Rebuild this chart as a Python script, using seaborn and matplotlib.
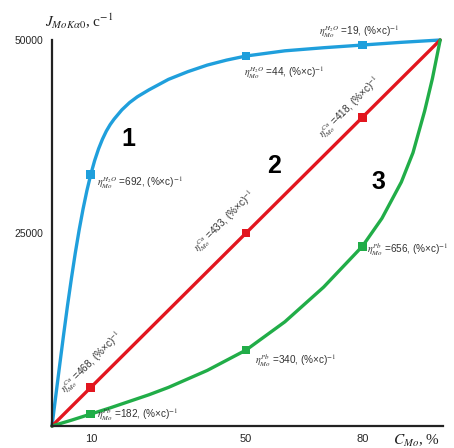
import matplotlib
matplotlib.use("Agg")
import matplotlib.pyplot as plt
import seaborn as sns
import pandas as pd

# ---- data ----
blue_x = [0, 1, 2, 3, 4, 5, 6, 7, 8, 9, 10, 11, 12, 13, 14, 15, 16, 18, 20, 22, 25,
          30, 35, 40, 45, 50, 60, 70, 80, 90, 100]
blue_y = [0, 4000, 7950, 11850, 15600, 19100, 22400, 25400, 28100, 30500, 32600, 34400,
          35900, 37150, 38200, 39050, 39750, 40950, 41900, 42650, 43550,
          44900, 45900, 46750, 47400, 47930, 48600, 49000, 49350, 49700, 50000]

red_x = [0, 10, 50, 80, 100]
red_y = [0, 5000, 25000, 40000, 50000]

green_x = [0, 5, 10, 15, 20, 25, 30, 40, 50, 60, 70, 80, 85, 90, 93, 96, 98, 100]
green_y = [0, 750, 1550, 2350, 3200, 4050, 5000, 7200, 9840, 13500, 18000, 23300,
           26900, 31600, 35400, 40800, 45000, 50000]

marker_x = [10, 50, 80]
blue_my = [32600, 47930, 49350]
red_my = [5000, 25000, 40000]
green_my = [1550, 9840, 23300]

blue_labels = ["692", "44", "19"]
red_labels = ["468", "433", "418"]
green_labels = ["182", "340", "656"]

x_ticks = [10, 50, 80]
y_ticks = [25000, 50000]

BLUE = "#1f9fdc"
RED = "#e2161f"
GREEN = "#21ad48"

sns.set_style("white")
plt.rcParams["font.family"] = ["Liberation Sans", "DejaVu Sans"]
plt.rcParams["mathtext.fontset"] = "stix"

fig = plt.figure(figsize=(4.54, 4.48), dpi=100)
ax = fig.add_axes([0.1145, 0.0491, 0.861, 0.8616])

curves = pd.concat([
    pd.DataFrame({"C": blue_x, "J": blue_y, "s": "1"}),
    pd.DataFrame({"C": red_x, "J": red_y, "s": "2"}),
    pd.DataFrame({"C": green_x, "J": green_y, "s": "3"}),
])
pal = {"1": BLUE, "2": RED, "3": GREEN}
sns.lineplot(data=curves, x="C", y="J", hue="s", palette=pal, linewidth=2.4,
             sort=False, estimator=None, legend=False, ax=ax)
for l in ax.lines:
    l.set_clip_on(False)
    l.set_solid_capstyle("round")
    l.set_solid_joinstyle("round")

marks = pd.concat([
    pd.DataFrame({"C": marker_x, "J": blue_my, "s": "1"}),
    pd.DataFrame({"C": marker_x, "J": red_my, "s": "2"}),
    pd.DataFrame({"C": marker_x, "J": green_my, "s": "3"}),
])
sns.scatterplot(data=marks, x="C", y="J", hue="s", palette=pal, marker="s",
                s=40, linewidth=0, legend=False, ax=ax, clip_on=False, zorder=5)

ax.set_xlim(0, 100.7)
ax.set_ylim(0, 50000)
ax.set_xticks(x_ticks)
ax.set_yticks(y_ticks)
ax.set_xticklabels([str(v) for v in x_ticks], fontsize=8)
ax.set_yticklabels([str(v) for v in y_ticks], fontsize=7.5)
ax.tick_params(direction="out", length=4, width=1.5, color="#222222", pad=2)
ax.set_xlabel("")
ax.set_ylabel("")
for side in ["top", "right"]:
    ax.spines[side].set_visible(False)
for side in ["left", "bottom"]:
    ax.spines[side].set_linewidth(1.6)
    ax.spines[side].set_color("#222222")

lab_fs = 7.2
tc = "#333333"
# blue labels (horizontal)
blue_pos = [(11.5, 31090), (49.5, 45340), (68.7, 50700)]
for (x, y), v in zip(blue_pos, blue_labels):
    ax.text(x, y, r"$\eta^{H_2O}_{Mo}$ =" + v + r", (%×c)$^{-1}$", fontsize=lab_fs,
            color=tc, ha="left", va="baseline")
# red labels (rotated along the line)
red_pos = [(3.6, 4270), (37.7, 22540), (70.0, 37300)]
for (x, y), v in zip(red_pos, red_labels):
    ax.text(x, y, r"$\eta^{Cu}_{Mo}$ =" + v + r", (%×c)$^{-1}$", fontsize=lab_fs,
            color=tc, ha="left", va="baseline", rotation=45, rotation_mode="anchor")
# green labels
green_pos = [(11.5, 1040), (52.3, 8030), (81.2, 22400)]
for (x, y), v in zip(green_pos, green_labels):
    ax.text(x, y, r"$\eta^{Pb}_{Mo}$ =" + v + r", (%×c)$^{-1}$", fontsize=lab_fs,
            color=tc, ha="left", va="baseline")

# curve numbers
for (x, y), t in zip([(19.7, 37180), (57.2, 33680), (84.1, 31620)], ["1", "2", "3"]):
    ax.text(x, y, t, fontsize=18, fontweight="bold", ha="center", va="center", color="black")

# axis titles
fig.text(45 / 454, 1 - 27 / 448, r"$J_{MoK\alpha0}$, c$^{-1}$", fontsize=11,
         family=["Liberation Serif", "DejaVu Serif"], ha="left", va="baseline", color="#222222")
fig.text(393 / 454, 1 - 445 / 448, r"$C_{Mo}$, %", fontsize=11,
         family=["Liberation Serif", "DejaVu Serif"], ha="left", va="baseline", color="#222222")

fig.savefig("out.png", dpi=100)
